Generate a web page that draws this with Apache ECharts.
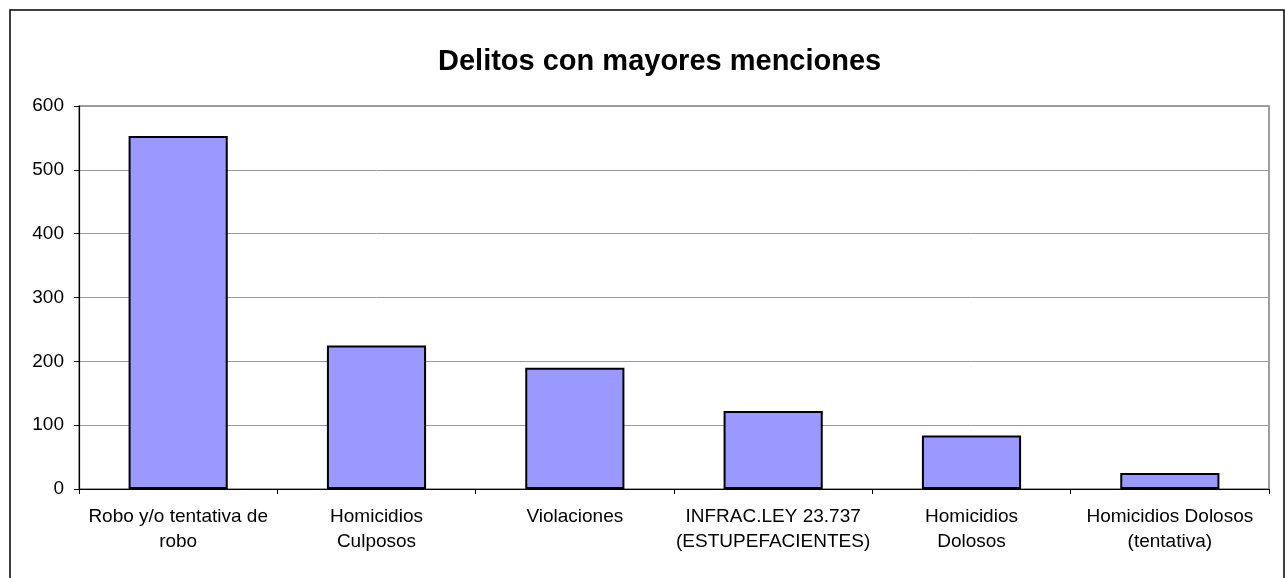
<!DOCTYPE html>
<html>
<head>
<meta charset="utf-8">
<script src="https://cdn.jsdelivr.net/npm/echarts@6/dist/echarts.min.js"></script>
<style>
  html, body { margin: 0; padding: 0; background: #fff; }
  #chart { width: 1285px; height: 578px; }
</style>
</head>
<body>
<div id="chart"></div>
<script>
const categories = [
  'Robo y/o tentativa de\nrobo',
  'Homicidios\nCulposos',
  'Violaciones',
  'INFRAC.LEY 23.737\n(ESTUPEFACIENTES)',
  'Homicidios\nDolosos',
  'Homicidios Dolosos\n(tentativa)'
];
const menciones = [553, 225, 190, 122, 84, 25];

const chart = echarts.init(document.getElementById('chart'), null, { renderer: 'canvas' });

chart.setOption({
  animation: false,
  textStyle: { fontFamily: 'Liberation Sans, Arial, sans-serif' },
  title: {
    text: 'Delitos con mayores menciones',
    left: 433,
    top: 42,
    textStyle: { fontSize: 29, fontWeight: 'bold', color: '#000', fontFamily: 'Liberation Sans, Arial, sans-serif' }
  },
  graphic: [
    {
      type: 'rect',
      shape: { x: 10, y: 10, width: 1274, height: 700 },
      style: { fill: 'none', stroke: '#000', lineWidth: 1.5 },
      silent: true
    }
  ],
  grid: {
    left: 79,
    right: 16,
    top: 106,
    bottom: 89,
    show: true,
    borderColor: '#808080',
    borderWidth: 1.5,
    backgroundColor: 'transparent'
  },
  xAxis: {
    type: 'category',
    data: categories,
    axisLine: { lineStyle: { color: '#000', width: 1.2 } },
    axisTick: { show: true, length: 5, lineStyle: { color: '#000' } },
    axisLabel: { color: '#000', fontSize: 19, lineHeight: 25, margin: 15, interval: 0 }
  },
  yAxis: {
    type: 'value',
    min: 0,
    max: 600,
    interval: 100,
    axisLine: { show: true, lineStyle: { color: '#000', width: 1.2 } },
    axisTick: { show: true, length: 5, lineStyle: { color: '#000' } },
    axisLabel: { color: '#000', fontSize: 19, margin: 15 },
    splitLine: { lineStyle: { color: '#999', width: 1 } }
  },
  series: [
    {
      type: 'bar',
      data: menciones,
      barWidth: '50%',
      itemStyle: { color: '#9999FF', borderColor: '#000', borderWidth: 2 }
    }
  ]
});
</script>
</body>
</html>
